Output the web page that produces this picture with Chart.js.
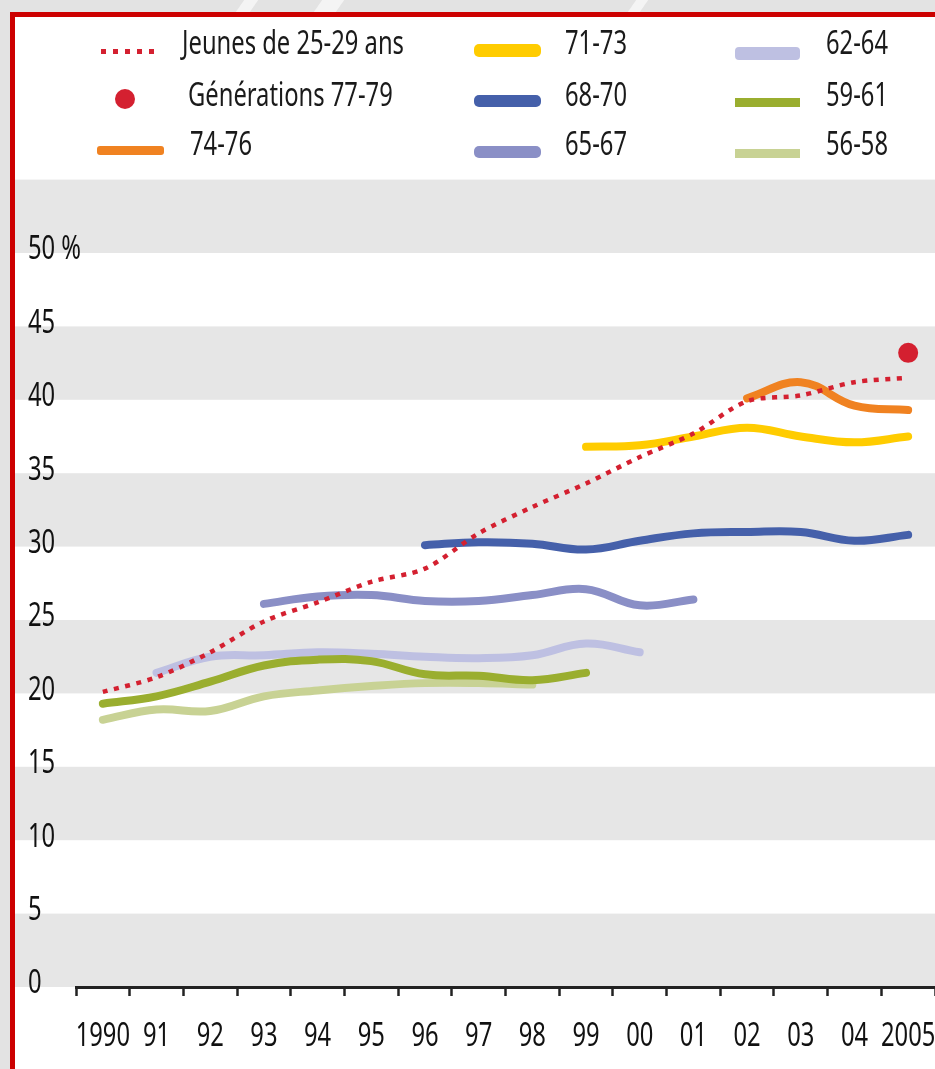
<!DOCTYPE html>
<html lang="fr">
<head>
<meta charset="utf-8">
<title>Jeunes de 25-29 ans</title>
<script src="https://cdn.jsdelivr.net/npm/chart.js@4.4.1/dist/chart.umd.min.js"></script>
<style>
    body {
        margin: 0;
        width: 935px;
        height: 1069px;
        overflow: hidden;
        position: relative;
        background: #e3e3e3;
        font-family: 'Noto Sans', 'DejaVu Sans Condensed', sans-serif;
        color: #1a1a1a;
    }
    .deco { position: absolute; top: 0; height: 12px; background: #f4f4f4; transform: skewX(-35deg); }
    #frame {
        position: absolute;
        left: 10px; top: 12px; width: 940px; height: 1070px;
        border-top: 5px solid #cc0000;
        border-left: 5px solid #cc0000;
        background: #fff;
    }
    #chart-box { position: absolute; left: 15px; top: 17px; width: 920px; height: 1052px; }
    .sw { position: absolute; }
    .txt {
        position: absolute;
        font-size: 33px;
        line-height: 33px;
        white-space: nowrap;
        transform: scaleX(0.72);
        transform-origin: left center;
    }
</style>
</head>
<body>
<div class="deco" style="left:240px;width:14px"></div>
<div class="deco" style="left:318px;width:22px"></div>
<div class="deco" style="left:632px;width:12px"></div>
<div id="frame"></div>
<div id="chart-box"><canvas id="chart"></canvas></div>

<!-- legend -->
<div class="sw" style="left:101px;top:49px;width:56px;height:5px;background:repeating-linear-gradient(90deg,#d42030 0 5px,transparent 5px 12px)"></div>
<div class="txt" style="left:182px;top:25px">Jeunes de 25-29 ans</div>
<div class="sw" style="left:115px;top:89px;width:20px;height:20px;border-radius:50%;background:#d42030"></div>
<div class="txt" style="left:188px;top:77px">Générations 77-79</div>
<div class="sw" style="left:97px;top:146px;width:67px;height:9px;border-radius:3px;background:#f08221"></div>
<div class="txt" style="left:190px;top:126px">74-76</div>

<div class="sw" style="left:474px;top:44px;width:67px;height:13px;border-radius:5px;background:#ffcc00"></div>
<div class="txt" style="left:565px;top:25px">71-73</div>
<div class="sw" style="left:474px;top:95px;width:67px;height:12px;border-radius:5px;background:#4560aa"></div>
<div class="txt" style="left:565px;top:77px">68-70</div>
<div class="sw" style="left:474px;top:146px;width:67px;height:12px;border-radius:5px;background:#8a8fc6"></div>
<div class="txt" style="left:565px;top:126px">65-67</div>

<div class="sw" style="left:735px;top:47px;width:65px;height:13px;border-radius:4px;background:#bec0e2"></div>
<div class="txt" style="left:826px;top:25px">62-64</div>
<div class="sw" style="left:735px;top:98px;width:65px;height:9px;background:#9aae2f"></div>
<div class="txt" style="left:826px;top:77px">59-61</div>
<div class="sw" style="left:735px;top:149px;width:65px;height:9px;background:#c8d294"></div>
<div class="txt" style="left:826px;top:126px">56-58</div>

<script>
// --- Data ---
const years = ['1990', '91', '92', '93', '94', '95', '96', '97', '98', '99', '00', '01', '02', '03', '04', '2005'];
const yTicks = [0, 5, 10, 15, 20, 25, 30, 35, 40, 45, 50];

const jeunes2529 = [20.1, 21.1, 22.8, 24.9, 26.2, 27.6, 28.5, 30.9, 32.7, 34.3, 36.1, 37.7, 39.9, 40.3, 41.2, 41.5];
const gen7779 = [null, null, null, null, null, null, null, null, null, null, null, null, null, null, null, 43.2];
const gen7476 = [null, null, null, null, null, null, null, null, null, null, null, null, 40.1, 41.2, 39.6, 39.3];
const gen7173 = [null, null, null, null, null, null, null, null, null, 36.8, 36.9, 37.5, 38.1, 37.5, 37.1, 37.5];
const gen6870 = [null, null, null, null, null, null, 30.1, 30.3, 30.2, 29.8, 30.4, 30.9, 31.0, 31.0, 30.4, 30.8];
const gen6567 = [null, null, null, 26.1, 26.6, 26.7, 26.3, 26.3, 26.7, 27.1, 26.0, 26.4, null, null, null, null];
const gen6264 = [null, 21.4, 22.5, 22.6, 22.8, 22.7, 22.5, 22.4, 22.6, 23.4, 22.8, null, null, null, null, null];
const gen5961 = [19.3, 19.8, 20.8, 21.9, 22.3, 22.2, 21.3, 21.2, 20.9, 21.4, null, null, null, null, null, null];
const gen5658 = [18.2, 18.9, 18.8, 19.8, 20.2, 20.5, 20.7, 20.7, 20.6, null, null, null, null, null, null, null];

// --- Style ---
const FONT = { family: "'Noto Sans', 'DejaVu Sans Condensed', sans-serif", size: 33 };
const TEXT_SQUEEZE = 0.72; // the original uses a condensed face we don't have
const BAND = '#e6e6e6';

function lineSet(label, data, color) {
    return {
        label, data,
        borderColor: color,
        borderWidth: 8,
        borderCapStyle: 'round',
        pointRadius: 0,
        tension: 0.4,
        fill: false
    };
}

// grey bands every other 5 points, across the whole frame
const bandsPlugin = {
    id: 'bands',
    beforeDraw(chart) {
        const { ctx, scales: { y } } = chart;
        ctx.save();
        ctx.fillStyle = BAND;
        for (let v = 0; v < y.max; v += 10) {
            const top = y.getPixelForValue(v + 5);
            const bottom = y.getPixelForValue(v);
            ctx.fillRect(0, top, chart.width, bottom - top);
        }
        ctx.restore();
    }
};

// squeeze tick label text horizontally around its anchor point
const condensePlugin = {
    id: 'condense',
    beforeDraw(chart) {
        const c = chart.ctx;
        const fill = CanvasRenderingContext2D.prototype.fillText;
        c.fillText = function (text, x, y) {
            this.save();
            this.translate(x, y);
            this.scale(TEXT_SQUEEZE, 1);
            fill.call(this, text, 0, 0);
            this.restore();
        };
    },
    afterDraw(chart) {
        delete chart.ctx.fillText;
    }
};

// --- Chart ---
const ctx = document.getElementById('chart').getContext('2d');
new Chart(ctx, {
    type: 'line',
    data: {
        labels: years,
        datasets: [
            {
                label: 'Générations 77-79',
                data: gen7779,
                showLine: false,
                pointRadius: 10,
                pointBorderWidth: 0,
                pointBackgroundColor: '#d42030',
                borderColor: '#d42030'
            },
            {
                label: 'Jeunes de 25-29 ans',
                data: jeunes2529,
                borderColor: '#d42030',
                borderWidth: 4.5,
                borderDash: [5, 6.5],
                pointRadius: 0,
                tension: 0.3,
                fill: false
            },
            lineSet('74-76', gen7476, '#f08221'),
            lineSet('71-73', gen7173, '#ffcc00'),
            lineSet('68-70', gen6870, '#4560aa'),
            lineSet('65-67', gen6567, '#8a8fc6'),
            lineSet('59-61', gen5961, '#9aae2f'),
            lineSet('62-64', gen6264, '#bec0e2'),
            lineSet('56-58', gen5658, '#c8d294')
        ]
    },
    options: {
        responsive: true,
        maintainAspectRatio: false,
        animation: false,
        layout: { autoPadding: false, padding: { top: 162.6, left: 13, right: 0, bottom: 0 } },
        plugins: {
            legend: { display: false },
            tooltip: { enabled: false }
        },
        scales: {
            x: {
                offset: true,
                grid: {
                    offset: true,
                    drawOnChartArea: false,
                    drawTicks: true,
                    tickLength: 9,
                    tickWidth: 2.5,
                    tickColor: '#222'
                },
                border: { display: true, color: '#222', width: 3 },
                ticks: { font: FONT, color: '#111', padding: 21, maxRotation: 0, autoSkip: false },
                afterFit: (s) => { s.height = 82; s.paddingLeft = 0; s.paddingRight = 0; }
            },
            y: {
                min: 0,
                max: 55,
                afterBuildTicks: (s) => { s.ticks = yTicks.map(v => ({ value: v })); },
                ticks: {
                    font: FONT,
                    color: '#111',
                    mirror: true,
                    crossAlign: 'near',
                    padding: -48,
                    labelOffset: -3,
                    callback: (v) => v === 50 ? '50 %' : String(v)
                },
                grid: { display: false },
                border: { display: false },
                afterFit: (s) => { s.width = 48; }
            }
        }
    },
    plugins: [bandsPlugin, condensePlugin]
});
</script>
</body>
</html>
